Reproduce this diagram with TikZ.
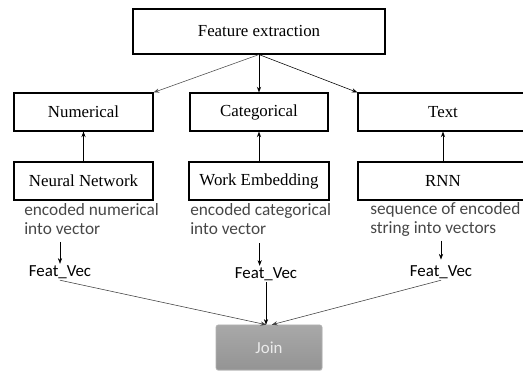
\documentclass[tikz,border=0pt]{standalone}
\usepackage{fontspec}
\setmainfont{Liberation Serif}
\newfontfamily\calfont{Carlito}
\usetikzlibrary{arrows.meta,shadows}

\tikzset{
    box/.style={draw,thick,minimum height=0.95cm,font=\fontsize{12}{14}\selectfont},
    note/.style={inner sep=0pt,align=left,text=black!72,font=\calfont\fontsize{12.3}{13.5}\selectfont},
    vec/.style={inner sep=1pt,font=\calfont\fontsize{12}{14}\selectfont},
    arr/.style={-{Stealth[length=4pt,width=3pt]}},
}

\begin{document}
\begin{tikzpicture}
            \useasboundingbox (0,0) rectangle (13.075,9.3);

            \node[box,minimum width=6.3cm,minimum height=1.125cm] (feat) at (6.475,8.5125) {Feature extraction};

            \node[box,minimum width=3.475cm] (num) at (2.0875,6.5) {Numerical};
            \node[box,minimum width=3.45cm] (cat) at (6.475,6.5) {Categorical};
            \node[box,minimum width=4.25cm] (txt) at (11.075,6.5) {Text};

            \node[box,minimum width=3.475cm] (nn) at (2.0875,4.775) {Neural Network};
            \node[box,minimum width=3.5cm] (emb) at (6.475,4.775) {Work Embedding};
            \node[box,minimum width=4.25cm] (rnn) at (11.075,4.775) {RNN};

            \draw[arr,thin,black!70] (feat.south) -- (num.north east);
            \draw[arr,semithick] (feat.south) -- (cat.north);
            \draw[arr,thin] (feat.south) -- (txt.north west);

            \draw[arr,semithick] (nn.north) -- (num.south);
            \draw[arr,semithick] (emb.north) -- (cat.south);
            \draw[arr,semithick] (rnn.north) -- (txt.south);

            \node[note,anchor=north west] (enc1) at (0.6,4.22) {encoded numerical\\into vector};
            \node[note,anchor=north west] (enc2) at (4.75,4.22) {encoded categorical\\into vector};
            \node[note,anchor=north west] (enc3) at (9.25,4.25) {sequence of encoded\\string into vectors};

            \node[vec] (fv1) at (1.5,2.5) {Feat\_Vec};
            \node[vec] (fv2) at (6.65,2.45) {Feat\_Vec};
            \node[vec] (fv3) at (11.025,2.5) {Feat\_Vec};

            \draw[arr] ([yshift=-5pt]fv1.north |- enc1.south) -- (fv1.north);
            \draw[arr] ([xshift=-4.5pt,yshift=-6pt]fv2.north |- enc2.south) -- ([xshift=-4.5pt]fv2.north);
            \draw[arr] ([yshift=-3pt]fv3.north |- enc3.south) -- ([yshift=3pt]fv3.north);

            \node[rounded corners=1.5pt,minimum width=2.65cm,minimum height=1.125cm,
                  top color=black!34,bottom color=black!42,draw=black!30,
                  drop shadow={opacity=0.25,shadow xshift=0.3pt,shadow yshift=-0.6pt},
                  text=black!8,font=\calfont\fontsize{12}{14}\selectfont] (join) at (6.725,0.6125) {Join};

            \draw[arr,thin,black!75] (fv1.south) -- ([xshift=-2pt]join.north);
            \draw[arr,thin] (fv2.south) -- (fv2.south |- join.north);
            \draw[arr,thin,black!75] (fv3.south) -- ([xshift=2pt]join.north);
\end{tikzpicture}
\end{document}
